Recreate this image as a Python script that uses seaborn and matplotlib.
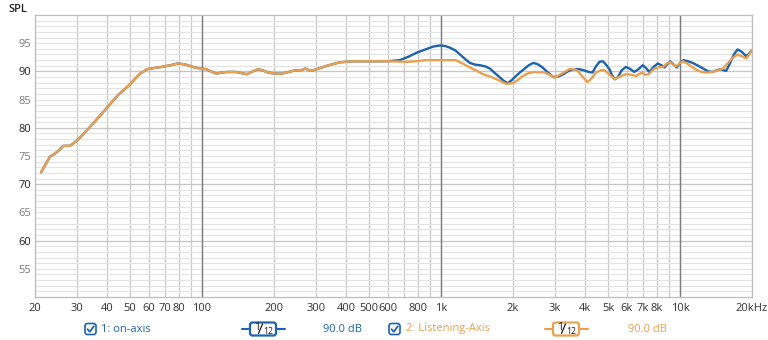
import numpy as np
import pandas as pd
import matplotlib
matplotlib.use("Agg")
import matplotlib.pyplot as plt
import seaborn as sns
from matplotlib.patches import FancyBboxPatch
from matplotlib.lines import Line2D

# ---------------- data ----------------
# shared part (both measurements coincide below ~600 Hz)
freq_low = [21.2, 22.2, 23.1, 24.2, 25.2, 26.3, 28.0, 29.9, 32.4, 35.6, 39.9, 44.5, 49.9,
            55, 59, 63, 67.8, 74, 79.1, 83, 87.3, 93, 98.9, 104, 109, 115, 121, 127, 133,
            139, 146, 154, 163, 172, 179, 186, 195, 205, 215, 226, 235, 245, 256, 263,
            270, 277, 283, 292, 302, 317, 333, 353, 376, 400, 428, 487, 540, 600]
spl_low = [72.1, 73.6, 74.9, 75.4, 76.0, 76.8, 76.8, 77.7, 79.2, 81.1, 83.5, 85.8, 87.7,
           89.6, 90.4, 90.6, 90.8, 91.1, 91.4, 91.3, 91.1, 90.7, 90.5, 90.4, 90.0, 89.6,
           89.8, 89.9, 89.9, 89.9, 89.7, 89.5, 90.0, 90.4, 90.2, 89.9, 89.7, 89.6, 89.6,
           89.8, 90.0, 90.2, 90.1, 90.3, 90.5, 90.3, 90.1, 90.2, 90.4, 90.7, 91.0, 91.3,
           91.6, 91.7, 91.8, 91.8, 91.8, 91.8]

# 1: on-axis, above 600 Hz
freq_on_hi = [672, 730, 789, 860, 926, 990, 1040, 1090, 1150, 1200, 1260, 1320, 1390,
              1450, 1530, 1600, 1670, 1730, 1820, 1900, 1970, 2060, 2150, 2240, 2330,
              2430, 2530, 2640, 2800, 2950, 3100, 3250, 3420, 3590, 3780, 3960, 4150,
              4300, 4450, 4600, 4750, 4900, 5060, 5200, 5330, 5500, 5700, 5940, 6200,
              6430, 6700, 6980, 7200, 7440, 7750, 8070, 8350, 8600, 8850, 9080, 9400,
              9690, 10000, 10330, 10800, 11300, 11900, 12500, 13100, 13700, 14200,
              14800, 15200, 15600, 16200, 16800, 17400, 18100, 18900, 19500, 20000]
spl_on_hi = [92.0, 92.6, 93.3, 93.9, 94.4, 94.6, 94.5, 94.2, 93.7, 93.0, 92.2, 91.5, 91.2,
             91.1, 90.9, 90.5, 89.8, 89.2, 88.4, 87.9, 88.4, 89.2, 89.9, 90.5, 91.1,
             91.5, 91.3, 90.8, 89.8, 89.0, 89.1, 89.5, 90.1, 90.4, 90.4, 90.2, 89.9,
             89.8, 90.9, 91.7, 91.8, 91.2, 90.4, 89.3, 88.6, 89.0, 90.2, 90.8, 90.4,
             89.9, 90.4, 91.1, 90.6, 89.9, 90.8, 91.4, 91.1, 90.7, 91.3, 91.8, 91.2,
             90.7, 91.5, 92.0, 91.8, 91.5, 91.0, 90.5, 90.0, 89.9, 90.2,
             90.4, 90.2, 90.1, 91.5, 93.0, 93.9, 93.5, 92.7, 93.2, 93.8]

# 2: Listening-Axis, above 600 Hz
freq_la_hi = [717, 790, 861, 950, 1040, 1150, 1230, 1320, 1410, 1500, 1600, 1710, 1790,
              1870, 2000, 2100, 2200, 2330, 2470, 2720, 2850, 2990, 3200, 3440, 3600,
              3730, 3900, 4100, 4250, 4450, 4650, 4830, 5080, 5330, 5600, 5940, 6250,
              6560, 6780, 6980, 7150, 7400, 7800, 8150, 8480, 8750, 9040, 9350, 9640,
              9950, 10270, 10700, 11130, 11700, 12280, 13000, 13700, 14400, 15100,
              15800, 16600, 17400, 18100, 18900, 19500, 20000]
spl_la_hi = [91.7, 91.8, 92.0, 92.0, 92.0, 92.0, 91.4, 90.7, 90.1, 89.5, 89.1, 88.6, 88.2,
             87.8, 87.9, 88.5, 89.2, 89.7, 89.9, 89.8, 89.4, 88.9, 89.6, 90.4, 90.4,
             90.1, 89.1, 88.1, 88.7, 89.8, 90.2, 90.2, 89.4, 88.6, 89.1, 89.5, 89.4,
             89.2, 89.6, 89.8, 89.4, 89.5, 90.5, 90.7, 90.8, 91.3, 91.7, 91.2, 90.9,
             91.4, 91.8, 91.4, 90.9, 90.3, 89.9, 89.8, 89.9, 90.2, 90.5,
             91.4, 92.4, 93.0, 92.7, 92.3, 93.0, 93.8]

xtick_vals = [20, 30, 40, 50, 60, 70, 80, 100, 200, 300, 400, 500, 600, 800, 1000,
              2000, 3000, 4000, 5000, 6000, 7000, 8000, 10000, 20000]
xtick_labels = ["20", "30", "40", "50", "60", "70", "80", "100", "200", "300", "400",
                "500", "600", "800", "1k", "2k", "3k", "4k", "5k", "6k", "7k", "8k",
                "10k", "20kHz"]
xgrid_vals = [m * d for d in (10, 100, 1000, 10000) for m in range(1, 10)
              if 20 < m * d < 20000]
decade_vals = [100, 1000, 10000]
ytick_vals = [55, 60, 65, 70, 75, 80, 85, 90, 95]

series_names = ["1: on-axis", "2: Listening-Axis"]
smoothing_label = ("1", "12")
level_label = "90.0 dB"

BLUE = "#1d63ad"
ORANGE = "#e9a04f"

# ---------------- figure ----------------
sns.set_theme(style="white")
plt.rcParams["font.family"] = ["Open Sans", "DejaVu Sans"]

W, H = 768, 340
fig = plt.figure(figsize=(W / 100, H / 100), dpi=100)
ax = fig.add_axes([35 / W, 43 / H, 717 / W, 282 / H])

df_on = pd.DataFrame({"freq": freq_low + freq_on_hi, "spl": spl_low + spl_on_hi})
df_la = pd.DataFrame({"freq": freq_low + freq_la_hi, "spl": spl_low + spl_la_hi})

sns.lineplot(data=df_on, x="freq", y="spl", color=BLUE, lw=1.7, ax=ax,
             estimator=None, zorder=3, solid_joinstyle="round")
sns.lineplot(data=df_la, x="freq", y="spl", color=ORANGE, lw=1.7, ax=ax,
             estimator=None, zorder=4, solid_joinstyle="round")

ax.set_xscale("log")
ax.set_xlim(20, 20000)
ax.set_ylim(50, 100)
ax.set_xlabel("")
ax.set_ylabel("")

ax.set_xticks(xtick_vals)
ax.set_xticklabels(xtick_labels)
ax.set_xticks(xgrid_vals, minor=True)
ax.xaxis.set_minor_formatter(matplotlib.ticker.NullFormatter())
ax.set_yticks(ytick_vals)
ax.set_yticks(np.arange(51, 100, 1), minor=True)

ax.tick_params(axis="both", which="both", length=0, labelsize=8)
ax.tick_params(axis="x", pad=4, colors="#333333")
ax.tick_params(axis="y", pad=3)
for lab, v in zip(ax.get_yticklabels(), ytick_vals):
    lab.set_color("#222222" if v % 10 == 0 else "#7a7a7a")

ax.set_axisbelow(True)
ax.grid(which="both", axis="y", color="#e3e3e3", lw=0.8)
ax.grid(which="both", axis="x", color="#c9c9c9", lw=0.9)
for v in ytick_vals:
    if v % 10 == 0:
        ax.axhline(v, color="#c6c6c6", lw=0.9, zorder=1)
for v in decade_vals:
    ax.axvline(v, color="#7d7d7d", lw=1.0, zorder=1)

for s in ax.spines.values():
    s.set_color("#bdbdbd")
    s.set_linewidth(0.9)

# ---------------- overlay in pixel coordinates ----------------
ov = fig.add_axes([0, 0, 1, 1], facecolor="none")
ov.set_xlim(0, W)
ov.set_ylim(H, 0)
ov.axis("off")

ov.text(8, 9, "SPL", fontsize=8, color="#222222", weight="semibold",
        va="center", ha="left")


def checkbox(x, y):
    ov.add_patch(FancyBboxPatch((x, y - 5.5), 11, 11,
                                boxstyle="round,pad=0,rounding_size=2.5",
                                ec=BLUE, fc="white", lw=1.2))
    ov.add_line(Line2D([x + 2.5, x + 4.8, x + 8.8], [y + 0.2, y + 2.8, y - 2.8],
                       color=BLUE, lw=1.3))


def smooth_box(x0, x1, y, color):
    bx0 = x0 + 8
    bw = 26
    ov.add_line(Line2D([x0, bx0], [y, y], color=color, lw=1.5))
    ov.add_line(Line2D([bx0 + bw, x1], [y, y], color=color, lw=1.5))
    ov.add_patch(FancyBboxPatch((bx0, y - 6.5), bw, 13,
                                boxstyle="round,pad=0,rounding_size=2.5",
                                ec=color, fc="white", lw=1.6))
    ov.text(bx0 + 4.5, y - 1.2, smoothing_label[0], fontsize=7.5,
            color="#1a1a1a", va="center", ha="left")
    ov.add_line(Line2D([bx0 + 8.5, bx0 + 12.5], [y + 4.5, y - 5.0],
                       color="#1a1a1a", lw=0.9))
    ov.text(bx0 + 12.8, y + 2.0, smoothing_label[1], fontsize=6.3,
            color="#1a1a1a", va="center", ha="left")


ly = 329
checkbox(85, ly)
ov.text(101, ly, series_names[0], fontsize=8, color=BLUE, va="center", ha="left")
smooth_box(242, 285, ly, BLUE)
ov.text(323, ly, level_label, fontsize=8, color=BLUE, va="center", ha="left")

checkbox(389, ly)
ov.text(406, ly, series_names[1], fontsize=8, color=ORANGE, va="center", ha="left")
smooth_box(545, 588, ly, ORANGE)
ov.text(628, ly, level_label, fontsize=8, color=ORANGE, va="center", ha="left")

fig.savefig("out.png", dpi=100, facecolor="white")
